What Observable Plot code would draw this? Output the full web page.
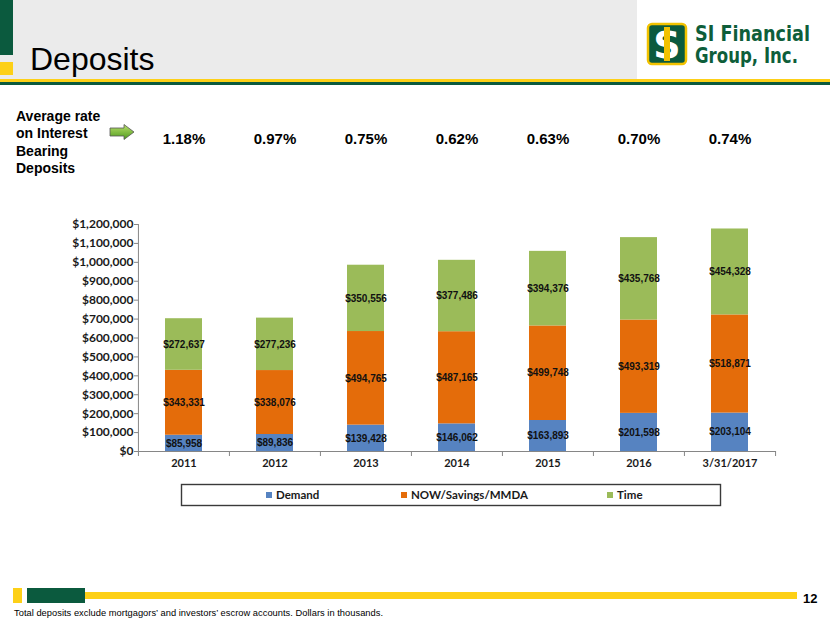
<!DOCTYPE html>
<html>
<head>
<meta charset="utf-8">
<script src="https://cdn.jsdelivr.net/npm/d3@7"></script>
<script src="https://cdn.jsdelivr.net/npm/@observablehq/plot@0.6"></script>
<style>
  html, body { margin: 0; padding: 0; background: #fff; }
  #page { position: relative; width: 830px; height: 623px; overflow: hidden; background: #fff; }
  #deco { position: absolute; left: 0; top: 0; }
  #chart { position: absolute; left: 0; top: 91px; }
</style>
</head>
<body>
<div id="page">
  <svg id="deco" width="830" height="623" xmlns="http://www.w3.org/2000/svg"></svg>
  <div id="chart"></div>
</div>
<script>
// ---- data ----
const categories = ["2011", "2012", "2013", "2014", "2015", "2016", "3/31/2017"];
const demand     = [85958, 89836, 139428, 146062, 163893, 201598, 203104];
const nowSavings = [343331, 338076, 494765, 487165, 499748, 493319, 518871];
const time       = [272637, 277236, 350556, 377486, 394376, 435768, 454328];
const rates      = ["1.18%", "0.97%", "0.75%", "0.62%", "0.63%", "0.70%", "0.74%"];
const seriesNames = ["Demand", "NOW/Savings/MMDA", "Time"];
const seriesColors = ["#5683C1", "#E46C0A", "#9BBB59"];
const yTicks = d3.range(0, 1200001, 100000);

const seriesValues = [demand, nowSavings, time];
const table = [];
categories.forEach((c, i) => {
  seriesNames.forEach((s, k) => table.push({cat: c, series: s, value: seriesValues[k][i]}));
});

const fmt = d => "$" + d3.format(",")(d);
const arial = "'Liberation Sans', Arial, sans-serif";
const cal = "Lato, 'Open Sans', sans-serif";

// ---- chart ----
const W = 830, H = 384, mL = 138, mR = 54, mT = 133, mB = 24;
const step = (W - mL - mR) / categories.length;

const chart = Plot.plot({
  width: W, height: H,
  marginLeft: mL, marginRight: mR, marginTop: mT, marginBottom: mB,
  style: {background: "transparent", overflow: "visible", fontFamily: cal},
  x: {domain: categories, paddingInner: 0.59, paddingOuter: 0.295, axis: null},
  y: {domain: [0, 1200000], axis: null},
  color: {domain: seriesNames, range: seriesColors},
  marks: [
    Plot.barY(table, {x: "cat", y: "value", fill: "series"}),
    Plot.ruleY([0], {stroke: "#868686", strokeWidth: 1}),
    Plot.ruleX([categories[0]], {dx: -step / 2, stroke: "#868686"}),
    Plot.axisY({ticks: yTicks, tickSize: 4, tickFormat: () => "", stroke: "#868686", label: null}),
    Plot.axisY({ticks: yTicks, tickSize: 0, tickPadding: 5, tickFormat: fmt, fill: "#1a1a1a",
                fontSize: 12, fontWeight: "bold", fontFamily: cal, label: null}),
    Plot.axisX({tickSize: 5, tickFormat: () => "", dx: -step / 2, stroke: "#868686", label: null}),
    Plot.axisX([categories[categories.length - 1]], {tickSize: 5, tickFormat: () => "", dx: step / 2, stroke: "#868686", label: null}),
    Plot.axisX({tickSize: 0, tickPadding: 8, fill: "#1a1a1a", fontSize: 11, fontWeight: "bold", fontFamily: cal, label: null}),
    Plot.text(table, Plot.stackY({x: "cat", y: "value", z: "series", text: d => fmt(d.value),
      fill: "#111", fontSize: 10, fontWeight: "bold", fontFamily: arial})),
    Plot.text(categories, {x: d => d, text: (d, i) => rates[i], frameAnchor: "top", dy: -91,
      fill: "#000", fontSize: 15, fontWeight: "bold", fontFamily: arial})
  ]
});
document.getElementById("chart").appendChild(chart);

// ---- decoration, title, legend, footer ----
const ns = "http://www.w3.org/2000/svg";
const deco = document.getElementById("deco");
function el(tag, attrs, text) {
  const e = document.createElementNS(ns, tag);
  for (const k in attrs) e.setAttribute(k, attrs[k]);
  if (text != null) e.textContent = text;
  deco.appendChild(e);
  return e;
}
const green = "#0B5A3E", yellow = "#FDD017";
// header
el("rect", {x: 0, y: 0, width: 637, height: 79, fill: "#EBEBEB"});
el("rect", {x: 0, y: 0, width: 13, height: 55, fill: green});
el("rect", {x: 0, y: 62, width: 13, height: 13, fill: yellow});
el("rect", {x: 0, y: 79, width: 830, height: 3, fill: yellow});
el("rect", {x: 0, y: 82, width: 830, height: 3, fill: green});
el("text", {x: 30, y: 70, "font-family": arial, "font-size": 32, fill: "#000"}, "Deposits");
// logo
el("rect", {x: 648, y: 24, width: 38, height: 40, rx: 4, fill: green, stroke: "#F2C200", "stroke-width": 2.5});
el("text", {x: 667, y: 58, "text-anchor": "middle", "font-family": "'DejaVu Sans', sans-serif", "font-weight": "bold", "font-size": 38, fill: "#fff"}, "S");
el("rect", {x: 664, y: 27, width: 6, height: 34, fill: "#F2C200"});
el("text", {x: 695, y: 41, "font-family": "'DejaVu Sans Condensed', 'DejaVu Sans', sans-serif", "font-weight": "bold", "font-size": 21, fill: "#0E5E3A", textLength: 115, lengthAdjust: "spacingAndGlyphs"}, "SI Financial");
el("text", {x: 695, y: 63, "font-family": "'DejaVu Sans Condensed', 'DejaVu Sans', sans-serif", "font-weight": "bold", "font-size": 21, fill: "#0E5E3A", textLength: 103, lengthAdjust: "spacingAndGlyphs"}, "Group, Inc.");
// rate label
["Average rate", "on Interest", "Bearing", "Deposits"].forEach((t, i) => {
  el("text", {x: 16, y: 121 + i * 17.4, "font-family": arial, "font-weight": "bold", "font-size": 14, fill: "#000"}, t);
});
// arrow
const defs = el("defs", {});
const grad = document.createElementNS(ns, "linearGradient");
grad.setAttribute("id", "ag"); grad.setAttribute("x1", 0); grad.setAttribute("y1", 0); grad.setAttribute("x2", 0); grad.setAttribute("y2", 1);
[["0", "#B9E06A"], ["1", "#4E9A1E"]].forEach(([o, c]) => {
  const s = document.createElementNS(ns, "stop"); s.setAttribute("offset", o); s.setAttribute("stop-color", c); grad.appendChild(s);
});
defs.appendChild(grad);
el("path", {d: "M110,128 L124,128 L124,124.5 L134,132 L124,139.5 L124,136 L110,136 Z", fill: "url(#ag)", stroke: "#555", "stroke-width": 0.8});
// legend
el("rect", {x: 181.5, y: 484.5, width: 539, height: 21, fill: "#fff", stroke: "#3a3a3a", "stroke-width": 1.4});
const legX = [266, 401, 607];
seriesNames.forEach((s, i) => {
  el("rect", {x: legX[i], y: 492, width: 6, height: 6, fill: seriesColors[i]});
  el("text", {x: legX[i] + 10, y: 499, "font-family": cal, "font-weight": "bold", "font-size": 11.5, fill: "#1a1a1a"}, s);
});
// footer
el("rect", {x: 13, y: 588, width: 9, height: 15, fill: yellow});
el("rect", {x: 27, y: 588, width: 58, height: 15, fill: green});
el("rect", {x: 85, y: 592, width: 712, height: 7, fill: yellow});
el("text", {x: 803, y: 603, "font-family": arial, "font-weight": "bold", "font-size": 13, fill: "#000"}, "12");
el("text", {x: 14, y: 616, "font-family": arial, "font-size": 9.3, fill: "#000", textLength: 369, lengthAdjust: "spacing"}, "Total deposits exclude mortgagors\u2019 and investors\u2019 escrow accounts.  Dollars in thousands.");
</script>
</body>
</html>
